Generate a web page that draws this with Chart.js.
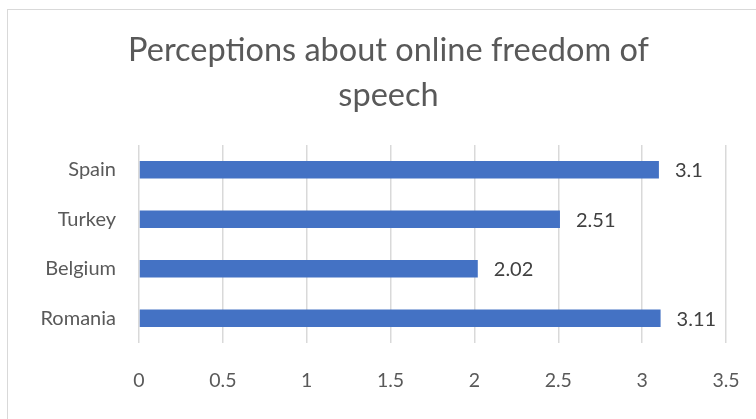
<!DOCTYPE html>
<html>
<head>
<meta charset="utf-8">
<script src="https://cdn.jsdelivr.net/npm/chart.js@4/dist/chart.umd.min.js"></script>
<style>
  html, body { margin: 0; padding: 0; background: #ffffff; overflow: hidden; }
  #frame { position: absolute; left: 7px; top: 9px; width: 820px; height: 500px; border: 1px solid #d9d9d9; }
  #wrap { position: absolute; left: 0; top: 0; width: 756px; height: 419px; }
</style>
</head>
<body>
<div id="frame"></div>
<div id="wrap"><canvas id="c" width="756" height="419"></canvas></div>
<script>
const titleLines = ["Perceptions about online freedom of", "speech"];
const categories = ["Spain", "Turkey", "Belgium", "Romania"];
const values = [3.1, 2.51, 2.02, 3.11];
const xTicks = [0, 0.5, 1, 1.5, 2, 2.5, 3, 3.5];

const FONT = "Lato";

const titleText = {
  id: 'titleText',
  afterDraw(chart) {
    const ctx = chart.ctx;
    ctx.save();
    ctx.font = "32.5px " + FONT;
    ctx.fillStyle = "#595959";
    ctx.textAlign = "center";
    ctx.textBaseline = "middle";
    titleLines.forEach((t, i) => ctx.fillText(t, 388.5, 50.5 + i * 45));
    ctx.restore();
  }
};

const valueLabels = {
  id: 'valueLabels',
  afterDatasetsDraw(chart) {
    const ctx = chart.ctx;
    const meta = chart.getDatasetMeta(0);
    ctx.save();
    ctx.font = "20px " + FONT;
    ctx.fillStyle = "#404040";
    ctx.textAlign = "left";
    ctx.textBaseline = "middle";
    meta.data.forEach((bar, i) => {
      ctx.fillText(String(values[i]), bar.x + 16, bar.y + 1);
    });
    ctx.restore();
  }
};

new Chart(document.getElementById('c'), {
  type: 'bar',
  data: {
    labels: categories,
    datasets: [{
      data: values,
      backgroundColor: '#4472C4',
      borderWidth: 0,
      categoryPercentage: 1,
      barPercentage: 0.355
    }]
  },
  options: {
    indexAxis: 'y',
    responsive: false,
    animation: false,
    devicePixelRatio: 1,
    layout: { padding: { left: 0, right: 30, top: 145, bottom: 0 } },
    plugins: {
      legend: { display: false },
      tooltip: { enabled: false },
      title: { display: false }
    },
    scales: {
      x: {
        type: 'linear',
        min: 0,
        max: 3.5,
        afterBuildTicks(scale) { scale.ticks = xTicks.map(v => ({ value: v })); },
        afterFit(scale) { scale.height = 76; scale.paddingLeft = 0; scale.paddingRight = 0; },
        grid: { color: '#d9d9d9', lineWidth: 1.5, drawTicks: false },
        border: { display: false },
        ticks: {
          color: '#595959',
          font: { family: FONT, size: 19.5 },
          padding: 26,
          callback: (v) => String(v)
        }
      },
      y: {
        afterFit(scale) { scale.width = 139; scale.paddingTop = 0; scale.paddingBottom = 0; },
        grid: { display: false, drawTicks: false },
        border: { display: false },
        ticks: {
          color: '#595959',
          font: { family: FONT, size: 20 },
          padding: 23
        }
      }
    }
  },
  plugins: [valueLabels, titleText]
});
</script>
</body>
</html>
